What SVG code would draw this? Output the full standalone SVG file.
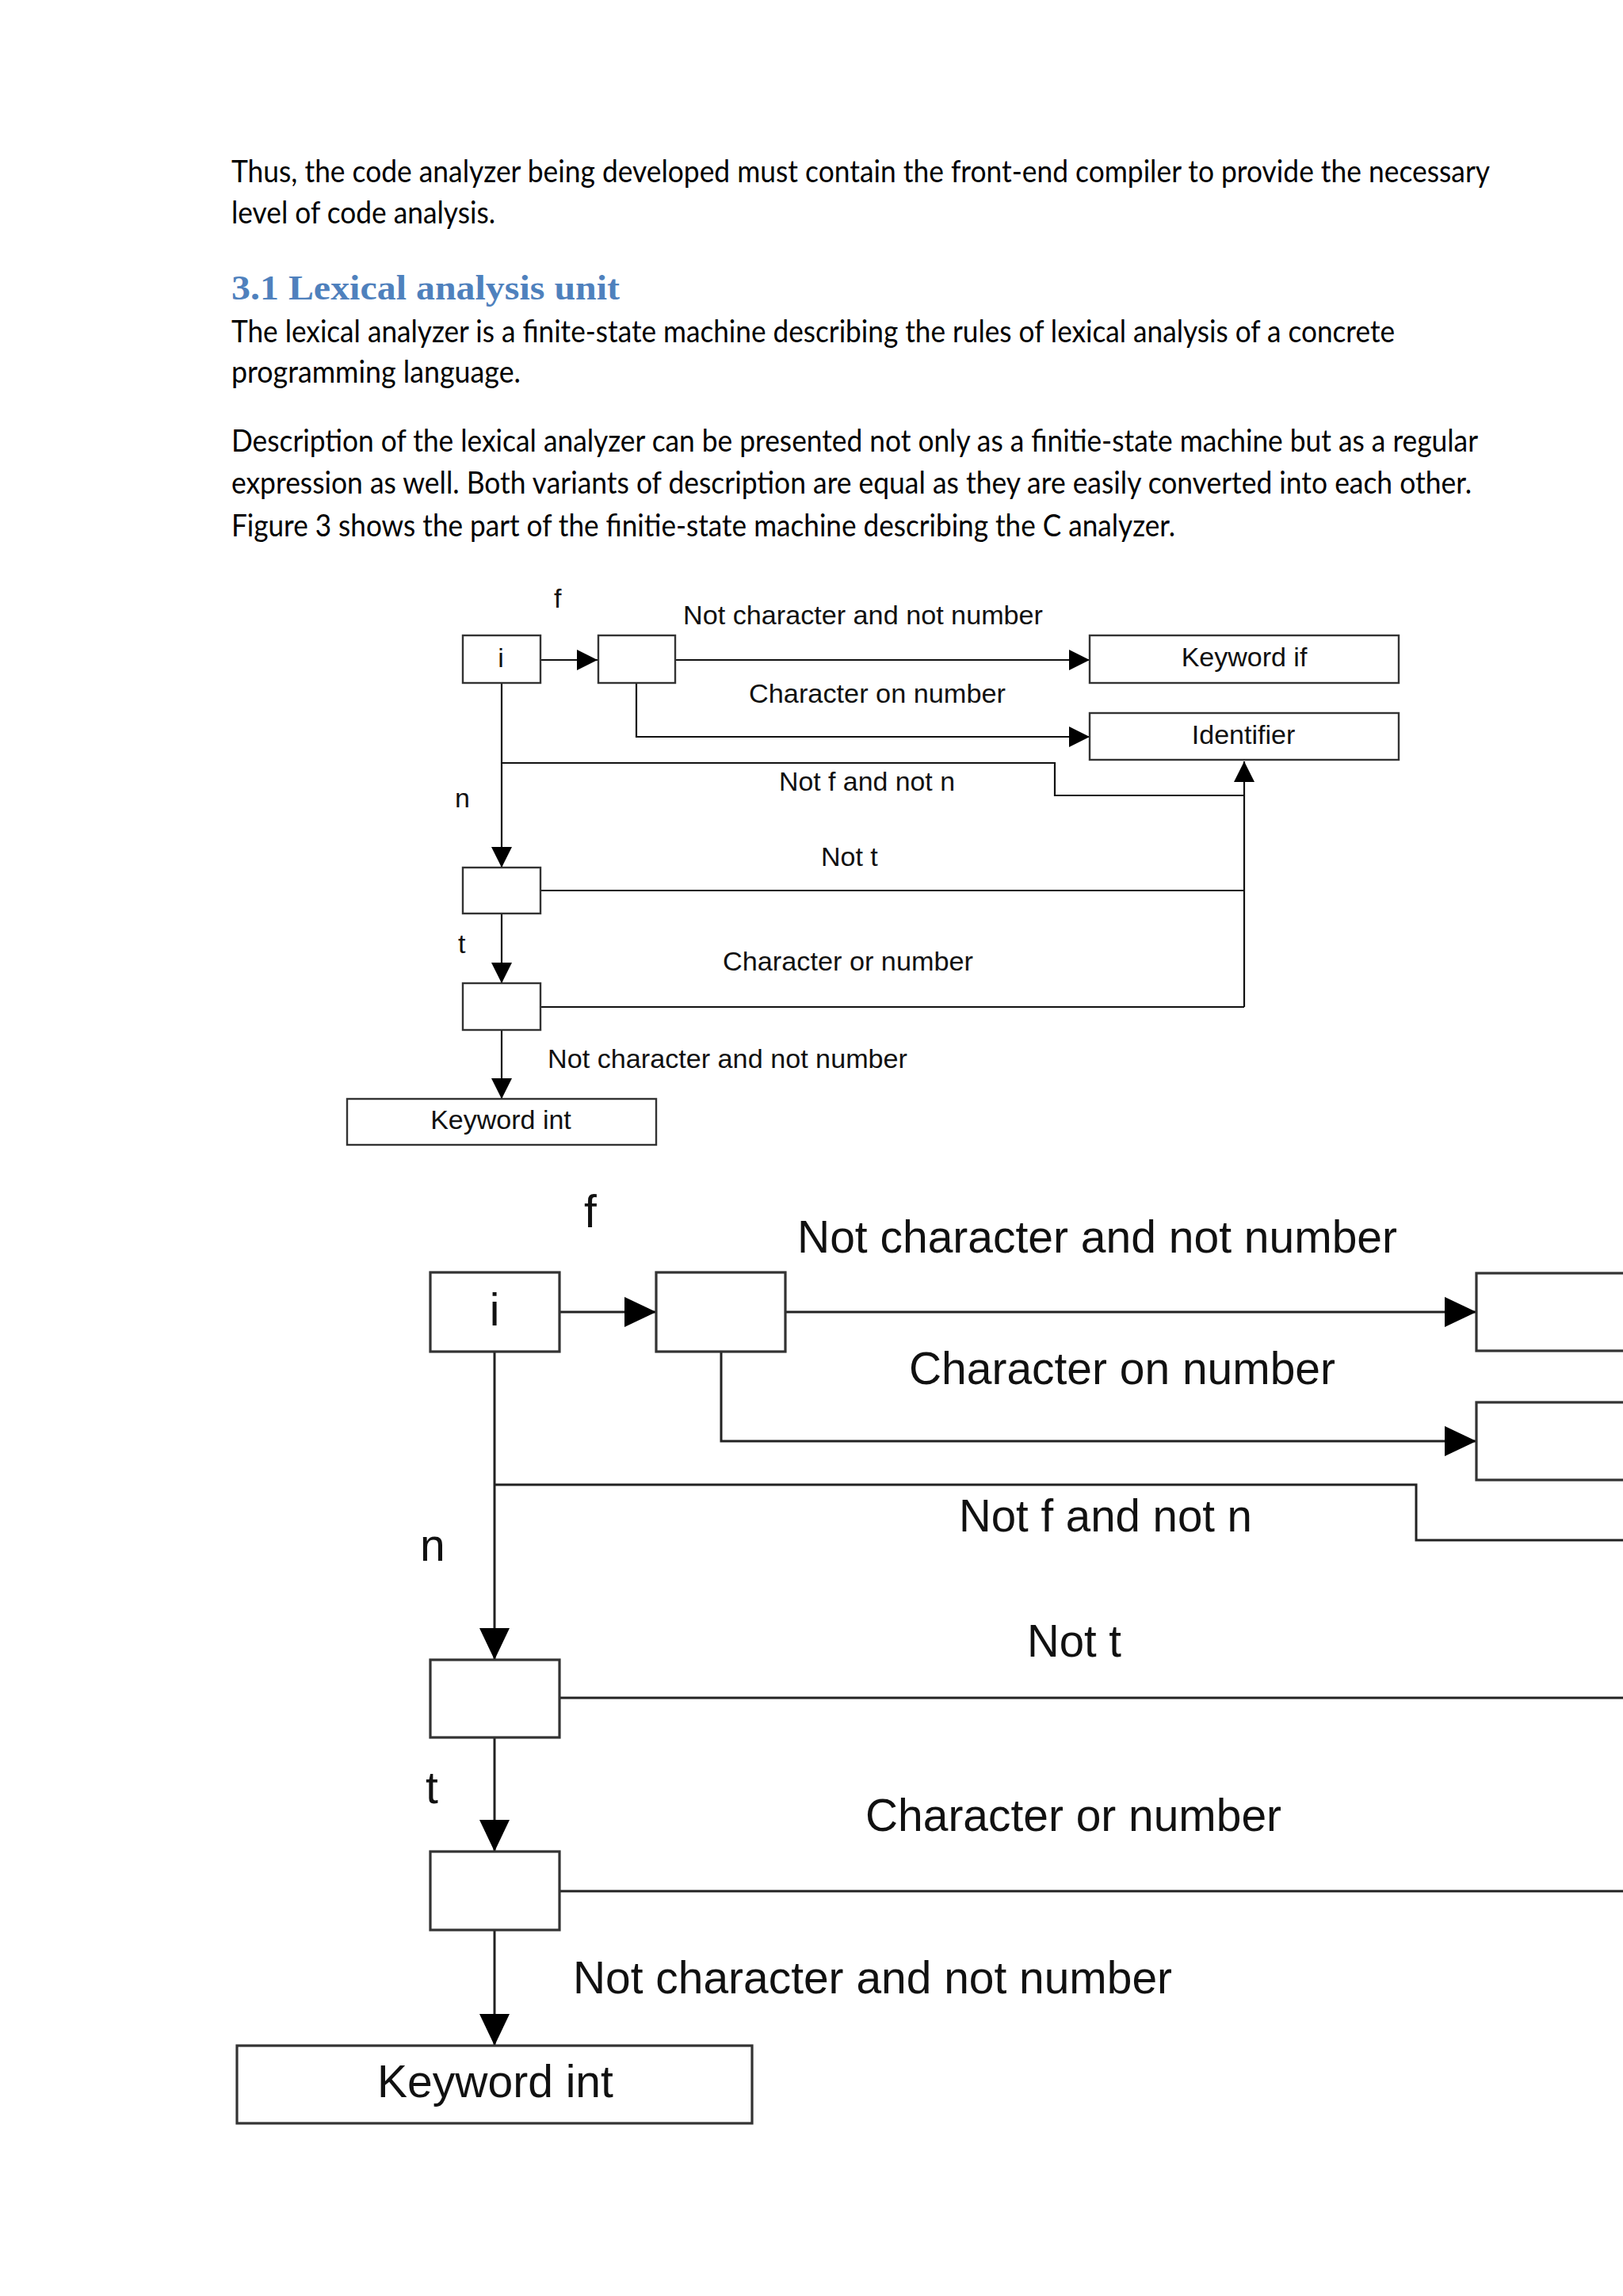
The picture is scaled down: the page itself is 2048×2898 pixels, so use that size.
<svg xmlns="http://www.w3.org/2000/svg" width="2048" height="2898" viewBox="0 0 2048 2898">
<style>
.body{font-family:Lato,"Liberation Sans",sans-serif;font-size:38px;fill:#000}
.head{font-family:"Liberation Serif",serif;font-weight:bold;font-size:44px;fill:#4F81BD}
.l1{font-family:"Liberation Sans",Arial,sans-serif;font-size:34px;fill:#111}
.l2{font-family:"Liberation Sans",Arial,sans-serif;font-size:57px;fill:#111}
.n1{fill:#fff;stroke:#333;stroke-width:2.4}
.n2{fill:#fff;stroke:#333;stroke-width:3.2}
.c1{fill:none;stroke:#111;stroke-width:2.2}
.c2{fill:none;stroke:#222;stroke-width:3}
.mid{text-anchor:middle}
</style>
<defs>
<marker id="a1" markerUnits="userSpaceOnUse" viewBox="0 0 26 26" markerWidth="26" markerHeight="26" refX="26" refY="13" orient="auto"><path d="M0,0 L26,13 L0,26 z" fill="#000"/></marker>
<marker id="a2" markerUnits="userSpaceOnUse" viewBox="0 0 40 38" markerWidth="40" markerHeight="38" refX="40" refY="19" orient="auto"><path d="M0,0 L40,19 L0,38 z" fill="#000"/></marker>
</defs>
<rect x="0" y="0" width="2048" height="2898" fill="#fff"/>
<g id="page-text">
<text class="body" x="292" y="230" textLength="1588" lengthAdjust="spacingAndGlyphs">Thus, the code analyzer being developed must contain the front-end compiler to provide the necessary</text>
<text class="body" x="292" y="282" textLength="333" lengthAdjust="spacingAndGlyphs">level of code analysis.</text>
<text class="head" x="292" y="378" textLength="490" lengthAdjust="spacingAndGlyphs">3.1 Lexical analysis unit</text>
<text class="body" x="292" y="432" textLength="1468" lengthAdjust="spacingAndGlyphs">The lexical analyzer is a finite-state machine describing the rules of lexical analysis of a concrete</text>
<text class="body" x="292" y="483" textLength="365" lengthAdjust="spacingAndGlyphs">programming language.</text>
<text class="body" x="292" y="570" textLength="1573" lengthAdjust="spacingAndGlyphs">Description of the lexical analyzer can be presented not only as a finitie-state machine but as a regular</text>
<text class="body" x="292" y="623" textLength="1565" lengthAdjust="spacingAndGlyphs">expression as well. Both variants of description are equal as they are easily converted into each other.</text>
<text class="body" x="292" y="677" textLength="1191" lengthAdjust="spacingAndGlyphs">Figure 3 shows the part of the finitie-state machine describing the C analyzer.</text>
</g>
<!-- Diagram 1 -->
<g id="d1-connectors">
<path class="c1" d="M682,833 H754" marker-end="url(#a1)"/>
<path class="c1" d="M852,833 H1375" marker-end="url(#a1)"/>
<path class="c1" d="M803,862 V930 H1375" marker-end="url(#a1)"/>
<path class="c1" d="M633,862 V1095" marker-end="url(#a1)"/>
<path class="c1" d="M633,963 H1331 V1004 H1570" stroke="#555"/>
<path class="c1" d="M1570,1271 V961" marker-end="url(#a1)"/>
<path class="c1" d="M682,1124 H1570"/>
<path class="c1" d="M633,1153 V1241" marker-end="url(#a1)"/>
<path class="c1" d="M682,1271 H1570"/>
<path class="c1" d="M633,1300 V1387" marker-end="url(#a1)"/>
</g>
<g id="d1-labels">
<text class="l1" x="699" y="767">f</text>
<text class="l1" x="862" y="788" textLength="454" lengthAdjust="spacingAndGlyphs">Not character and not number</text>
<text class="l1" x="945" y="887" textLength="324" lengthAdjust="spacingAndGlyphs">Character on number</text>
<text class="l1" x="983" y="998" textLength="222" lengthAdjust="spacingAndGlyphs">Not f and not n</text>
<text class="l1" x="574" y="1019">n</text>
<text class="l1" x="1036" y="1093">Not t</text>
<text class="l1" x="578" y="1203">t</text>
<text class="l1" x="912" y="1225" textLength="316" lengthAdjust="spacingAndGlyphs">Character or number</text>
<text class="l1" x="691" y="1348" textLength="454" lengthAdjust="spacingAndGlyphs">Not character and not number</text>
</g>
<g id="d1-node-i"><rect class="n1" x="584" y="802" width="98" height="60"/><text class="l1 mid" x="632" y="842">i</text></g>
<g id="d1-node-f"><rect class="n1" x="755" y="802" width="97" height="60"/></g>
<g id="d1-node-keyword-if"><rect class="n1" x="1375" y="802" width="390" height="60"/><text class="l1 mid" x="1570" y="841">Keyword if</text></g>
<g id="d1-node-identifier"><rect class="n1" x="1375" y="900" width="390" height="59"/><text class="l1 mid" x="1569" y="939">Identifier</text></g>
<g id="d1-node-n"><rect class="n1" x="584" y="1095" width="98" height="58"/></g>
<g id="d1-node-t"><rect class="n1" x="584" y="1241" width="98" height="59"/></g>
<g id="d1-node-keyword-int"><rect class="n1" x="438" y="1387" width="390" height="58"/><text class="l1 mid" x="632" y="1425">Keyword int</text></g>
<!-- Diagram 2 -->
<g id="d2-connectors">
<path class="c2" d="M706,1656 H828" marker-end="url(#a2)"/>
<path class="c2" d="M991,1656 H1863" marker-end="url(#a2)"/>
<path class="c2" d="M910,1706 V1819 H1863" marker-end="url(#a2)"/>
<path class="c2" d="M624,1706 V2095" marker-end="url(#a2)"/>
<path class="c2" d="M624,1874 H1787 V1944 H2060" stroke="#555"/>
<path class="c2" d="M706,2143 H2060"/>
<path class="c2" d="M624,2193 V2337" marker-end="url(#a2)"/>
<path class="c2" d="M706,2387 H2060"/>
<path class="c2" d="M624,2436 V2582" marker-end="url(#a2)"/>
</g>
<g id="d2-labels">
<text class="l2" x="737" y="1549">f</text>
<text class="l2" x="1006" y="1581" textLength="757" lengthAdjust="spacingAndGlyphs">Not character and not number</text>
<text class="l2" x="1147" y="1747" textLength="538" lengthAdjust="spacingAndGlyphs">Character on number</text>
<text class="l2" x="1210" y="1933" textLength="370" lengthAdjust="spacingAndGlyphs">Not f and not n</text>
<text class="l2" x="530" y="1970">n</text>
<text class="l2" x="1296" y="2091" textLength="119" lengthAdjust="spacingAndGlyphs">Not t</text>
<text class="l2" x="537" y="2276">t</text>
<text class="l2" x="1092" y="2311" textLength="525" lengthAdjust="spacingAndGlyphs">Character or number</text>
<text class="l2" x="723" y="2516" textLength="756" lengthAdjust="spacingAndGlyphs">Not character and not number</text>
</g>
<g id="d2-node-i"><rect class="n2" x="543" y="1606" width="163" height="100"/><text class="l2 mid" x="624" y="1673">i</text></g>
<g id="d2-node-f"><rect class="n2" x="828" y="1606" width="163" height="100"/></g>
<g id="d2-node-keyword-if"><rect class="n2" x="1863" y="1607" width="220" height="98"/></g>
<g id="d2-node-identifier"><rect class="n2" x="1863" y="1770" width="220" height="98"/></g>
<g id="d2-node-n"><rect class="n2" x="543" y="2095" width="163" height="98"/></g>
<g id="d2-node-t"><rect class="n2" x="543" y="2337" width="163" height="99"/></g>
<g id="d2-node-keyword-int"><rect class="n2" x="299" y="2582" width="650" height="98"/><text class="l2 mid" x="625" y="2647">Keyword int</text></g>
</svg>
